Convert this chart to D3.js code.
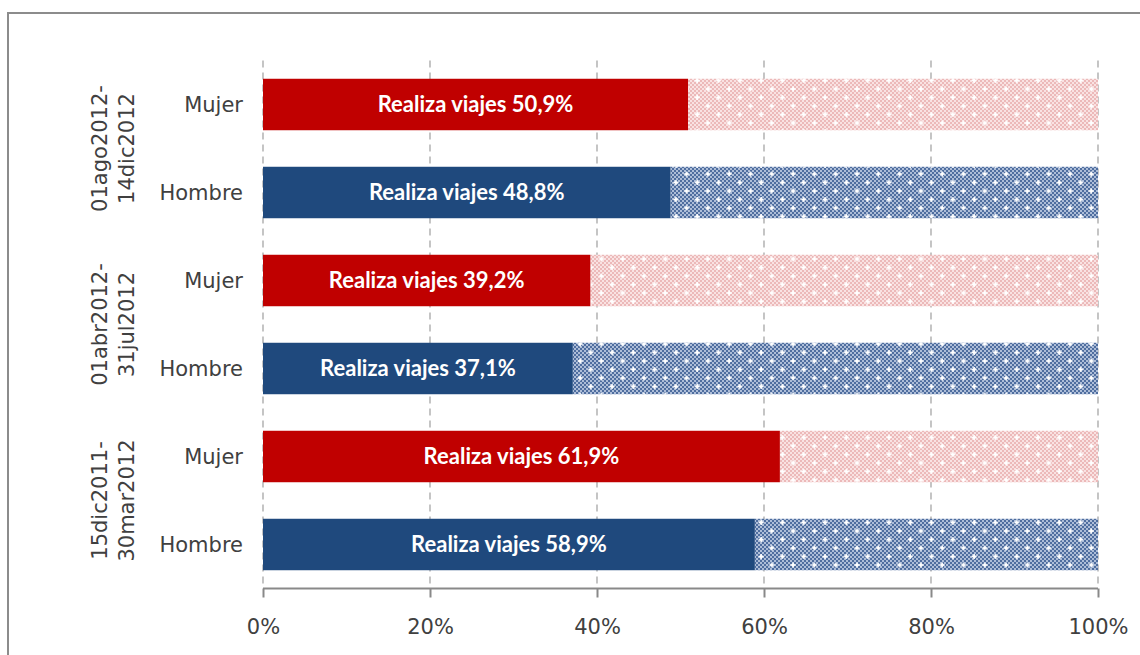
<!DOCTYPE html>
<html>
<head>
<meta charset="utf-8">
<script src="https://cdn.jsdelivr.net/npm/d3@7"></script>
<style>
  body { margin: 0; background: #fff; }
  svg { display: block; }
</style>
</head>
<body>
<script>
// periods, top to bottom
var periods = ["01ago2012-14dic2012", "01abr2012-31jul2012", "15dic2011-30mar2012"];
var periodLines = [["01ago2012-", "14dic2012"], ["01abr2012-", "31jul2012"], ["15dic2011-", "30mar2012"]];
var sexes = ["Mujer", "Hombre"];
// share that "Realiza viajes" (%) per period, Mujer then Hombre
var mujer = [50.9, 39.2, 61.9];
var hombre = [48.8, 37.1, 58.9];
var ticks = [0, 20, 40, 60, 80, 100];

var width = 1140, height = 655;
var margin = {top: 60.5, left: 263, right: 42, bottom: 66.5};

var rows = [];
periods.forEach(function(p, i) {
  rows.push({id: p + "|Mujer", period: i, sex: "Mujer", value: mujer[i]});
  rows.push({id: p + "|Hombre", period: i, sex: "Hombre", value: hombre[i]});
});

var colors = {Mujer: "#c00000", Hombre: "#1f497d"};

var svg = d3.select("body").append("svg")
    .attr("width", width)
    .attr("height", height);

// patterns for the remainder part of the bars
var defs = svg.append("defs");
function makePattern(name, dark, light) {
  var chk = defs.append("pattern")
      .attr("id", name + "-chk")
      .attr("patternUnits", "userSpaceOnUse")
      .attr("width", 4).attr("height", 4);
  chk.append("rect").attr("width", 4).attr("height", 4).attr("fill", light);
  chk.append("rect").attr("width", 2).attr("height", 2).attr("fill", dark);
  chk.append("rect").attr("x", 2).attr("y", 2).attr("width", 2).attr("height", 2).attr("fill", dark);

  var dots = defs.append("pattern")
      .attr("id", name + "-dots")
      .attr("patternUnits", "userSpaceOnUse")
      .attr("width", 21.3).attr("height", 17);
  [[5, 4], [15.65, 12.5]].forEach(function(c) {
    dots.append("rect").attr("x", c[0] - 2.5).attr("y", c[1] - 0.75).attr("width", 5).attr("height", 1.5).attr("fill", "#fff");
    dots.append("rect").attr("x", c[0] - 0.75).attr("y", c[1] - 2.5).attr("width", 1.5).attr("height", 5).attr("fill", "#fff");
    dots.append("rect").attr("x", c[0] - 1.25).attr("y", c[1] - 1.25).attr("width", 2.5).attr("height", 2.5).attr("fill", "#fff");
  });
}
makePattern("mujer", "#ecb9b9", "#f9e2e2");
makePattern("hombre", "#4f6e9f", "#adbdd8");

// frame
svg.append("rect")
    .attr("x", 8).attr("y", 13)
    .attr("width", 1150).attr("height", 700)
    .attr("fill", "none")
    .attr("stroke", "#8c8c8c")
    .attr("stroke-width", 2);

var x = d3.scaleLinear()
    .domain([0, 100])
    .range([margin.left, width - margin.right]);

var y = d3.scaleBand()
    .domain(rows.map(function(d) { return d.id; }))
    .range([margin.top, height - margin.bottom])
    .paddingInner(0.415)
    .paddingOuter(0.2075);

// dashed gridlines
svg.append("g")
  .selectAll("line")
  .data(ticks)
  .enter().append("line")
    .attr("x1", function(d) { return x(d); })
    .attr("x2", function(d) { return x(d); })
    .attr("y1", margin.top)
    .attr("y2", height - margin.bottom)
    .attr("stroke", "#a6a6a6")
    .attr("stroke-width", 1.3)
    .attr("stroke-dasharray", "7,5");

// remainder (patterned)
var rest = svg.append("g");
rest.selectAll("rect.chk")
  .data(rows)
  .enter().append("rect")
    .attr("class", "chk")
    .attr("x", function(d) { return x(d.value); })
    .attr("y", function(d) { return y(d.id); })
    .attr("width", function(d) { return x(100) - x(d.value); })
    .attr("height", y.bandwidth())
    .attr("fill", function(d) { return d.sex == "Mujer" ? "url(#mujer-chk)" : "url(#hombre-chk)"; });
rest.selectAll("rect.dots")
  .data(rows)
  .enter().append("rect")
    .attr("class", "dots")
    .attr("x", function(d) { return x(d.value); })
    .attr("y", function(d) { return y(d.id); })
    .attr("width", function(d) { return x(100) - x(d.value); })
    .attr("height", y.bandwidth())
    .attr("fill", function(d) { return d.sex == "Mujer" ? "url(#mujer-dots)" : "url(#hombre-dots)"; });

// solid bars
svg.append("g")
  .selectAll("rect")
  .data(rows)
  .enter().append("rect")
    .attr("x", x(0))
    .attr("y", function(d) { return y(d.id); })
    .attr("width", function(d) { return x(d.value) - x(0); })
    .attr("height", y.bandwidth())
    .attr("fill", function(d) { return colors[d.sex]; });

// bar labels
svg.append("g")
  .selectAll("text")
  .data(rows)
  .enter().append("text")
    .attr("x", function(d) { return (x(0) + x(d.value)) / 2; })
    .attr("y", function(d) { return y(d.id) + y.bandwidth() / 2; })
    .attr("dy", "0.35em")
    .attr("text-anchor", "middle")
    .attr("fill", "#fff")
    .style("font-family", "Lato, 'Liberation Sans', sans-serif")
    .style("font-weight", "bold")
    .style("font-size", "22px")
    .text(function(d) { return "Realiza viajes " + d.value.toFixed(1).replace(".", ",") + "%"; });

// x axis
var xAxis = svg.append("g")
    .attr("transform", "translate(0," + (height - margin.bottom) + ")")
    .call(d3.axisBottom(x).tickValues(ticks).tickSize(9).tickPadding(22)
      .tickFormat(function(d) { return d + "%"; }));
xAxis.select(".domain").attr("stroke", "#898989").attr("stroke-width", 2).attr("d", "M" + x(0) + ",0H" + x(100));
xAxis.selectAll(".tick line").attr("stroke", "#898989").attr("stroke-width", 2);
xAxis.selectAll(".tick text")
    .attr("fill", "#404040")
    .style("font-family", "'DejaVu Sans', Verdana, sans-serif")
    .style("font-size", "21px");

// sex labels
svg.append("g")
  .selectAll("text")
  .data(rows)
  .enter().append("text")
    .attr("x", 243)
    .attr("y", function(d) { return y(d.id) + y.bandwidth() / 2; })
    .attr("dy", "0.35em")
    .attr("text-anchor", "end")
    .attr("fill", "#404040")
    .style("font-family", "'DejaVu Sans', Verdana, sans-serif")
    .style("font-size", "21px")
    .text(function(d) { return d.sex; });

// period labels (rotated, two lines)
var pg = svg.append("g")
  .selectAll("text")
  .data(periodLines)
  .enter().append("text")
    .attr("transform", function(d, i) {
      var cy = (y(periods[i] + "|Mujer") + y(periods[i] + "|Hombre") + y.bandwidth()) / 2;
      return "translate(107," + cy + ") rotate(-90)";
    })
    .attr("text-anchor", "middle")
    .attr("fill", "#404040")
    .style("font-family", "'DejaVu Sans', Verdana, sans-serif")
    .style("font-size", "21px");
pg.selectAll("tspan")
  .data(function(d) { return d; })
  .enter().append("tspan")
    .attr("x", 0)
    .attr("dy", function(d, j) { return j == 0 ? 0 : "1.3em"; })
    .text(function(d) { return d; });
</script>
</body>
</html>
